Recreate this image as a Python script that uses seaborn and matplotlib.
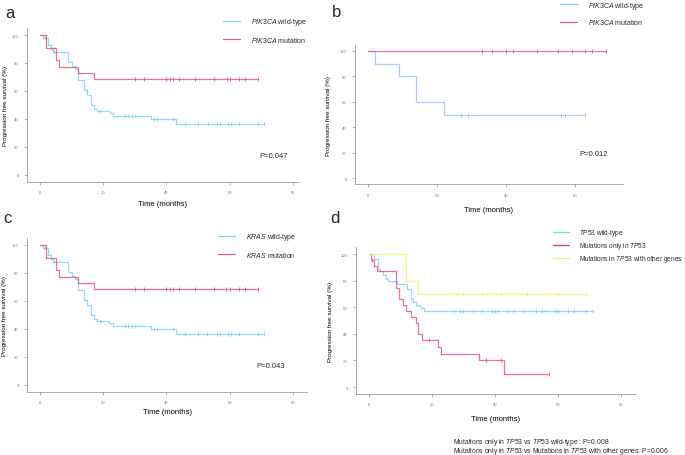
import numpy as np
import pandas as pd
import matplotlib
matplotlib.use("Agg")
import matplotlib.pyplot as plt
import seaborn as sns
from matplotlib.lines import Line2D

# ---- panel a: PIK3CA (step times, survival %, end of follow-up, censor times)
pik3ca_wt_t = [0, 1, 2.5, 3.5, 4, 9, 10, 11, 12, 14, 15, 16, 17, 18, 22, 23, 35, 43]
pik3ca_wt_s = [100, 98, 93, 90, 88, 81, 78, 76, 68, 61, 57, 50, 47, 46, 44, 42, 40, 36.5]
pik3ca_wt_end = 71
pik3ca_wt_cens = [1.5, 4.5, 19, 27, 28, 29, 30, 36, 37, 42, 46, 50, 53, 56, 57, 59.5, 60.5, 63, 69, 71]
pik3ca_mut_t = [0, 2, 5, 6, 12, 17]
pik3ca_mut_s = [100, 91, 82, 77, 73, 68.5]
pik3ca_mut_end = 69
pik3ca_mut_cens = [30, 33, 40, 41, 42, 44, 49, 55, 59, 60, 63, 65, 69]

# ---- panel b: PIK3CA (second cohort)
b_wt_t = [0, 2, 9, 14, 22]
b_wt_s = [100, 90, 80, 60, 50]
b_wt_end = 63
b_wt_cens = [27, 29, 56, 57, 63]
b_mut_t = [0]
b_mut_s = [100]
b_mut_end = 69
b_mut_cens = [33, 36, 40, 42, 49, 55, 59, 63, 65, 69]

# ---- panel c: KRAS (curves read identical to panel a)
kras_wt_t, kras_wt_s = pik3ca_wt_t, pik3ca_wt_s
kras_wt_end, kras_wt_cens = pik3ca_wt_end, pik3ca_wt_cens
kras_mut_t, kras_mut_s = pik3ca_mut_t, pik3ca_mut_s
kras_mut_end, kras_mut_cens = pik3ca_mut_end, pik3ca_mut_cens

# ---- panel d: TP53
tp53_wt_t = [0, 1.5, 3, 3.5, 4.5, 5.5, 6, 9, 12, 13.5, 14, 15, 15.5, 16.5, 17.5]
tp53_wt_s = [100, 96, 89, 87, 84, 81, 80, 77.5, 73.5, 66.5, 64, 62, 61, 59.5, 57.5]
tp53_wt_end = 71
tp53_wt_cens = [27, 29, 30, 33, 36, 39, 40, 41, 44, 46, 49, 53, 55, 56, 59, 60, 63, 65, 69, 71]
tp53_only_t = [0, 0.8, 1.7, 2.6, 8.5, 9.6, 10.7, 11.7, 13.5, 14.8, 15.6, 16.7, 21.9, 22.8, 34.8, 43]
tp53_only_s = [100, 95.7, 91, 87, 74.5, 66, 61.5, 57, 52.5, 48, 39.5, 35, 30, 25, 20.5, 10]
tp53_only_end = 57
tp53_only_cens = [1, 19, 37, 42, 57]
tp53_other_t = [0, 11.7, 15.6]
tp53_other_s = [100, 80, 70]
tp53_other_end = 69
tp53_other_cens = [28, 30, 36, 42, 50, 60, 69]

p_values = ["P=0.047", "P=0.012", "P=0.043"]
footnote = [r"Mutations only in $\mathit{TP53}$ vs $\mathit{TP53}$ wild-type : P=0.008",
            r"Mutations only in $\mathit{TP53}$ vs Mutations in $\mathit{TP53}$ with other genes: P=0.006"]

CYAN = "#7fd4ea"
RED = "#e65a7c"
BLUE = "#a3bff0"
YELLOW = "#f1ee72"

sns.set_theme(style="ticks")
plt.rcParams["font.family"] = ["Liberation Sans", "DejaVu Sans"]
plt.rcParams["mathtext.fontset"] = "custom"
plt.rcParams["mathtext.rm"] = "Liberation Sans"
plt.rcParams["mathtext.it"] = "Liberation Sans:italic"


def km(ax, t, s, end, cens, color):
    df = pd.DataFrame({"t": list(t) + [end], "s": list(s) + [s[-1]]})
    sns.lineplot(data=df, x="t", y="s", ax=ax, color=color, lw=0.9, alpha=0.85,
                 drawstyle="steps-post", estimator=None, sort=False)
    idx = np.searchsorted(t, cens, side="right") - 1
    sns.scatterplot(x=cens, y=np.array(s)[idx], ax=ax, marker="|", s=9,
                    color=color, linewidth=0.6)


def style(ax, xlim, xticks, xlab_y, ylab_x):
    ax.set_xlim(*xlim)
    ax.set_ylim(-5, 105)
    ax.set_xticks(xticks)
    ax.set_yticks(range(0, 101, 20))
    sns.despine(ax=ax)
    for sp in ["left", "bottom"]:
        ax.spines[sp].set_color("#9a9a9a")
        ax.spines[sp].set_linewidth(0.6)
    ax.tick_params(labelsize=3, colors="#777777", length=2, width=0.4, pad=4)
    ax.set_xlabel("Time (months)", fontsize=5.5, color="black")
    ax.set_ylabel("Progression free survival (%)", fontsize=4.5, color="black")
    ax.xaxis.set_label_coords(0.5, xlab_y)
    ax.yaxis.set_label_coords(ylab_x, 0.5)


def legend(ax, fig, handles, labels, x, y, spacing, fs=5):
    ax.legend(handles, labels, loc="upper left", bbox_to_anchor=(x / 685, 1 - y / 456),
              bbox_transform=fig.transFigure, frameon=False, fontsize=fs,
              handlelength=2.45, handletextpad=1.6, labelspacing=spacing,
              borderpad=0, borderaxespad=0)


fig = plt.figure(figsize=(6.85, 4.56), dpi=100)
ax_a = fig.add_axes([0.0394, 0.5987, 0.3956, 0.3377])
ax_b = fig.add_axes([0.5182, 0.5935, 0.3912, 0.3064])
ax_c = fig.add_axes([0.0394, 0.1382, 0.4088, 0.3377])
ax_d = fig.add_axes([0.5197, 0.1345, 0.4073, 0.3208])

# a
km(ax_a, pik3ca_wt_t, pik3ca_wt_s, pik3ca_wt_end, pik3ca_wt_cens, CYAN)
km(ax_a, pik3ca_mut_t, pik3ca_mut_s, pik3ca_mut_end, pik3ca_mut_cens, RED)
style(ax_a, (-4.1, 81.6), [0, 20, 40, 60, 80], -0.114, -0.070)
ax_a.text(69.5, 14, p_values[0], fontsize=5.5, va="center")
legend(ax_a, fig, [Line2D([], [], color=CYAN, lw=0.9), Line2D([], [], color=RED, lw=0.9)],
       [r"$\mathit{PIK3CA}$ wild-type", r"$\mathit{PIK3CA}$ mutation"], 223, 17, 1.12)

# b
km(ax_b, b_wt_t, b_wt_s, b_wt_end, b_wt_cens, BLUE)
km(ax_b, b_mut_t, b_mut_s, b_mut_end, b_mut_cens, RED)
style(ax_b, (-3.8, 73.9), [0, 20, 40, 60], -0.155, -0.090)
ax_b.text(61.4, 19, p_values[1], fontsize=5.5, va="center")
legend(ax_b, fig, [Line2D([], [], color=CYAN, lw=0.9), Line2D([], [], color=RED, lw=0.9)],
       [r"$\mathit{PIK3CA}$ wild-type", r"$\mathit{PIK3CA}$ mutation"], 560, 0.5, 1.0)

# c
km(ax_c, kras_wt_t, kras_wt_s, kras_wt_end, kras_wt_cens, CYAN)
km(ax_c, kras_mut_t, kras_mut_s, kras_mut_end, kras_mut_cens, RED)
style(ax_c, (-4.1, 84.5), [0, 20, 40, 60, 80], -0.107, -0.071)
ax_c.text(68.4, 14, p_values[2], fontsize=5.5, va="center")
legend(ax_c, fig, [Line2D([], [], color=CYAN, lw=0.9), Line2D([], [], color=RED, lw=0.9)],
       [r"$\mathit{KRAS}$ wild-type", r"$\mathit{KRAS}$ mutation"], 218, 232, 1.08)

# d
km(ax_d, tp53_wt_t, tp53_wt_s, tp53_wt_end, tp53_wt_cens, CYAN)
km(ax_d, tp53_only_t, tp53_only_s, tp53_only_end, tp53_only_cens, RED)
km(ax_d, tp53_other_t, tp53_other_s, tp53_other_end, tp53_other_cens, YELLOW)
style(ax_d, (-4.1, 84.4), [0, 20, 40, 60, 80], -0.1425, -0.082)
legend(ax_d, fig, [Line2D([], [], color=c, lw=0.9) for c in (CYAN, "#e03a5c", YELLOW)],
       [r"$\mathit{TP53}$ wild-type", r"Mutations only in $\mathit{TP53}$",
        r"Mutations in $\mathit{TP53}$ with other genes"], 553, 228.5, 0.3, fs=4.7)

fig.text(453 / 685, 1 - 447 / 456, "\n".join(footnote),
         fontsize=4.9, va="center", linespacing=0.82)

for letter, x, y in [("a", 5, 18), ("b", 332, 17), ("c", 3, 223), ("d", 330, 223)]:
    fig.text(x / 685, 1 - y / 456, letter, fontsize=12, va="baseline")

fig.savefig("out.png", dpi=100)
